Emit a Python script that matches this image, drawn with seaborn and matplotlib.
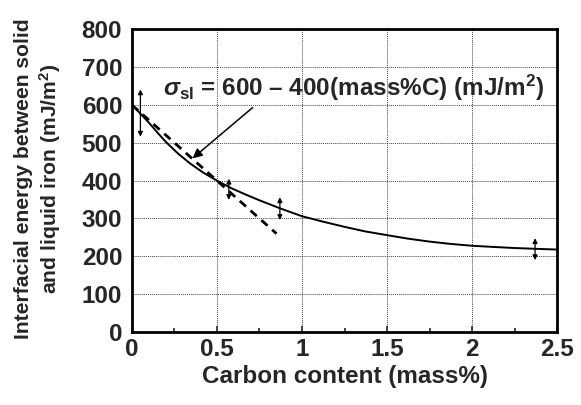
import numpy as np
import pandas as pd
import matplotlib
matplotlib.use('Agg')
import matplotlib.pyplot as plt
import seaborn as sns

# curve
carbon = [0, 0.05, 0.1, 0.15, 0.2, 0.27, 0.34, 0.42, 0.5, 0.58, 0.67, 0.75, 0.87, 1.0,
          1.12, 1.25, 1.37, 1.5, 1.62, 1.75, 1.87, 2.0, 2.12, 2.25, 2.37, 2.5]
energy = [600, 577, 553, 527, 502, 472, 446, 421, 400, 381, 363, 348, 327, 306,
          292, 278, 266, 256, 247, 239, 233, 228, 225, 222, 220, 218]

# linear fit 600 - 400(mass%C), end points
fit_x = [0, 0.85]
fit_y = [600, 260]

# measured points with scatter (double arrows)
meas_x = [0.05, 0.57, 0.87, 2.37]
meas_lo = [516, 349, 296, 190]
meas_hi = [641, 405, 356, 248]

sns.set_style('ticks')
plt.rcParams['font.family'] = ['Liberation Sans', 'DejaVu Sans']
plt.rcParams['font.weight'] = 'bold'
plt.rcParams['mathtext.fontset'] = 'custom'
plt.rcParams['mathtext.rm'] = 'Liberation Sans:bold'
plt.rcParams['mathtext.bf'] = 'Liberation Sans:bold'
plt.rcParams['mathtext.it'] = 'Liberation Sans:italic:bold'

fs = 17.5

fig = plt.figure(figsize=(5.81, 4.05), dpi=100)
ax = fig.add_axes([0.227, 0.180, 0.732, 0.748])

df = pd.DataFrame({'c': carbon, 'e': energy})
sns.lineplot(data=df, x='c', y='e', ax=ax, color='black', lw=1.4)
sns.lineplot(x=fit_x, y=fit_y, ax=ax, color='black', lw=2, linestyle=(0, (3, 2.2)))

for x, lo, hi in zip(meas_x, meas_lo, meas_hi):
    ax.annotate('', xy=(x, hi), xytext=(x, lo),
                arrowprops=dict(arrowstyle='<|-|>', color='black', lw=0.9,
                                mutation_scale=7, shrinkA=0, shrinkB=0))

ax.annotate('', xy=(0.357, 459), xytext=(0.71, 593),
            arrowprops=dict(arrowstyle='-|>', color='black', lw=1.1,
                            mutation_scale=14, shrinkA=0, shrinkB=0))
ax.text(0.18, 644, r'$\sigma_{\mathbf{sl}}$ = 600 – 400(mass%C) (mJ/m$^{\mathbf{2}}$)',
        fontsize=fs, fontweight='bold', va='center', ha='left')

ax.set_xlim(0, 2.5)
ax.set_ylim(0, 800)
ax.set_xticks([0, 0.5, 1, 1.5, 2, 2.5])
ax.set_xticklabels(['0', '0.5', '1', '1.5', '2', '2.5'])
ax.set_xticks([0.25, 0.75, 1.25, 1.75, 2.25], minor=True)
ax.set_yticks(range(0, 801, 100))
ax.grid(True, which='major', color='#444444', linestyle=(0, (1, 1)), lw=0.7)
ax.tick_params(axis='both', which='both', direction='in', labelsize=fs, width=1.2)
ax.tick_params(axis='x', which='major', length=4, pad=4)
ax.tick_params(axis='x', which='minor', length=3)
ax.tick_params(axis='y', length=0, pad=7)
for lab in ax.get_xticklabels() + ax.get_yticklabels():
    lab.set_fontweight('bold')
for s in ax.spines.values():
    s.set_linewidth(2)
    s.set_color('black')

ax.set_xlabel('Carbon content (mass%)', fontsize=fs, fontweight='bold', labelpad=3)
ax.set_ylabel('Interfacial energy between solid\nand liquid iron (mJ/m$^{\\mathbf{2}}$)',
              fontsize=15.2, fontweight='bold', linespacing=1.2)
ax.yaxis.set_label_coords(-0.162, 0.505)

fig.savefig('out.png', dpi=100)
